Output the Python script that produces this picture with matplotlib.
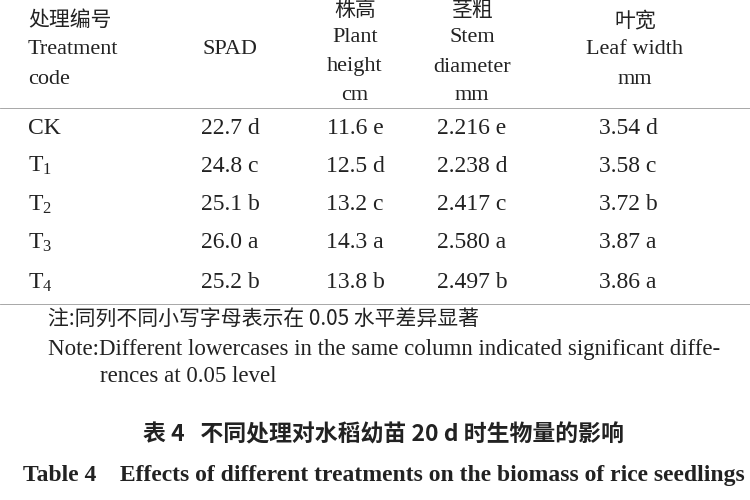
import matplotlib
matplotlib.use("Agg")
import matplotlib.pyplot as plt

plt.rcParams['mathtext.fontset'] = 'custom'
plt.rcParams['mathtext.rm'] = 'Liberation Serif'
plt.rcParams['mathtext.it'] = 'Liberation Serif'

codes = ["CK", "T$_1$", "T$_2$", "T$_3$", "T$_4$"]
spad = ["22.7 d", "24.8 c", "25.1 b", "26.0 a", "25.2 b"]
height = ["11.6 e", "12.5 d", "13.2 c", "14.3 a", "13.8 b"]
stem = ["2.216 e", "2.238 d", "2.417 c", "2.580 a", "2.497 b"]
leaf = ["3.54 d", "3.58 c", "3.72 b", "3.87 a", "3.86 a"]

fig = plt.figure(figsize=(7.5, 5), dpi=100)
W, H = 750, 500
SER = ['Liberation Serif', 'Noto Sans CJK SC']
CJK = ['Noto Sans CJK SC', 'Liberation Serif']
def t(x, y, s, ha='center', fam=SER, size=16, **kw):
    fig.text(x / W, 1 - y / H, s, ha=ha, va='center', family=fam, fontsize=size, color='#222', **kw)

# header
t(28, 20, "处理编号", ha='left', fam=CJK, size=15)
t(28, 50, "Treatment", ha='left')
t(28, 80, "code", ha='left')
t(230, 50, "SPAD")
for x, lines in [(355, ["株高", "Plant", "height", "cm"]), (472, ["茎粗", "Stem", "diameter", "mm"])]:
    for y, s in zip([10, 38, 67, 96], lines):
        t(x, y, s, fam=CJK if y == 10 else SER, size=15 if y == 10 else 16)
t(635, 20, "叶宽", fam=CJK, size=15)
t(635, 50, "Leaf width")
t(635, 80, "mm")

fig.add_artist(plt.Line2D([0.0, 1.0], [1 - 108 / H] * 2, color='#999', lw=0.6))
fig.add_artist(plt.Line2D([0.0, 1.0], [1 - 304 / H] * 2, color='#999', lw=0.6))

rows_y = [128, 166, 205, 243, 283]
for i, y in enumerate(rows_y):
    t(28, y, codes[i], ha='left', size=17)
    t(230, y, spad[i], size=17)
    t(355, y, height[i], size=17)
    t(472, y, stem[i], size=17)
    t(628, y, leaf[i], size=17)

t(48, 320, "注:同列不同小写字母表示在 0.05 水平差异显著", ha='left', fam=CJK, size=15)
t(48, 349, "Note:Different lowercases in the same column indicated significant diffe-", ha='left', size=16.5)
t(100, 377, "rences at 0.05 level", ha='left', size=16.5)

t(383, 435, "表 4   不同处理对水稻幼苗 20 d 时生物量的影响", fam=CJK, size=16.5, weight='bold')
t(384, 475, "Table 4    Effects of different treatments on the biomass of rice seedlings", size=17, weight='bold')

fig.savefig("out.png", dpi=100, facecolor='white')
